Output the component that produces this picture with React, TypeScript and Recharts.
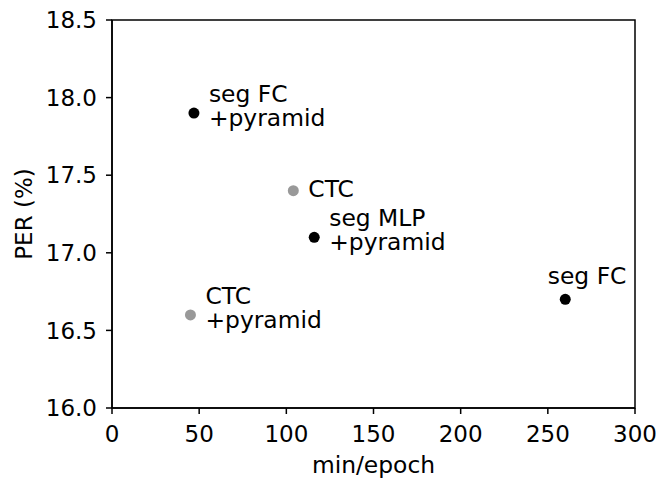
import React from "react";
import { ScatterChart, Scatter, XAxis, YAxis, ReferenceArea } from "recharts";

// ---- data ----
const methodLabels: string[][] = [
  ["seg FC", "+pyramid"],
  ["CTC"],
  ["seg MLP", "+pyramid"],
  ["seg FC"],
  ["CTC", "+pyramid"],
];
const minPerEpoch: number[] = [47, 104, 116, 260, 45];
const perPercent: number[] = [17.9, 17.4, 17.1, 16.7, 16.6];
const methodFamily: string[] = ["seg", "ctc", "seg", "seg", "ctc"];
const labelSide: string[] = ["right", "right", "right", "above", "right"];

const xTicks: number[] = [0, 50, 100, 150, 200, 250, 300];
const yTicks: number[] = [16.0, 16.5, 17.0, 17.5, 18.0, 18.5];

const FONT = "'DejaVu Sans', sans-serif";
const FS = 23;
const FS_ANN = 23.4;
const familyColor: Record<string, string> = { seg: "#000000", ctc: "#999999" };

const points = minPerEpoch.map((x, i) => ({
  x,
  y: perPercent[i],
  lines: methodLabels[i],
  fam: methodFamily[i],
  side: labelSide[i],
}));

const PointShape = (props: any) => {
  const { cx, cy, payload } = props;
  if (cx == null || cy == null) return null;
  const color = familyColor[payload.fam];
  const lines: string[] = payload.lines;
  let texts: React.ReactNode[] = [];
  if (payload.side === "above") {
    texts = lines.map((t, k) => (
      <text key={k} x={cx - 17.5} y={cy - 15.5} fontSize={FS_ANN} fontFamily={FONT} fill="#000">
        {t}
      </text>
    ));
  } else if (lines.length === 1) {
    texts = [
      <text key={0} x={cx + 15} y={cy + 6.5} fontSize={FS_ANN} fontFamily={FONT} fill="#000">
        {lines[0]}
      </text>,
    ];
  } else {
    texts = lines.map((t, k) => (
      <text key={k} x={cx + 15} y={cy - 11 + k * 24} fontSize={FS_ANN} fontFamily={FONT} fill="#000">
        {t}
      </text>
    ));
  }
  return (
    <g>
      <circle cx={cx} cy={cy} r={5.5} fill={color} />
      {texts}
    </g>
  );
};

export default function App() {
  return (
    <div style={{ width: 659, height: 480 }}>
      <style>{"body{margin:0}"}</style>
      <ScatterChart width={659} height={480} margin={{ top: 20, right: 24, bottom: 0, left: 0 }}>
        <XAxis
          type="number"
          dataKey="x"
          domain={[0, 300]}
          ticks={xTicks}
          allowDataOverflow
          height={72}
          tickSize={6}
          tickMargin={12}
          axisLine={{ stroke: "#000", strokeWidth: 1.5 }}
          tickLine={{ stroke: "#000", strokeWidth: 1.5 }}
          tick={{ fill: "#000", fontSize: FS, fontFamily: FONT }}
          label={{
            content: (p: any) => {
              const vb = p.viewBox || {};
              return (
                <text
                  x={vb.x + vb.width / 2}
                  y={473}
                  textAnchor="middle"
                  fontSize={FS_ANN}
                  fontFamily={FONT}
                  fill="#000"
                >
                  min/epoch
                </text>
              );
            },
          }}
        />
        <YAxis
          type="number"
          dataKey="y"
          domain={[16, 18.5]}
          ticks={yTicks}
          allowDataOverflow
          width={112}
          tickSize={6}
          tickMargin={9}
          tickFormatter={(v: number) => v.toFixed(1)}
          axisLine={{ stroke: "#000", strokeWidth: 1.5 }}
          tickLine={{ stroke: "#000", strokeWidth: 1.5 }}
          tick={{ fill: "#000", fontSize: FS, fontFamily: FONT }}
          label={{
            content: (p: any) => {
              const vb = p.viewBox || {};
              const cy = vb.y + vb.height / 2;
              return (
                <text
                  x={32}
                  y={cy}
                  transform={`rotate(-90, 32, ${cy})`}
                  textAnchor="middle"
                  fontSize={FS}
                  fontFamily={FONT}
                  fill="#000"
                >
                  PER (%)
                </text>
              );
            },
          }}
        />
        <ReferenceArea
          x1={0}
          x2={300}
          y1={16}
          y2={18.5}
          fill="none"
          stroke="#000"
          strokeWidth={1.5}
          ifOverflow="visible"
        />
        <Scatter data={points} shape={PointShape} isAnimationActive={false} />
      </ScatterChart>
    </div>
  );
}
